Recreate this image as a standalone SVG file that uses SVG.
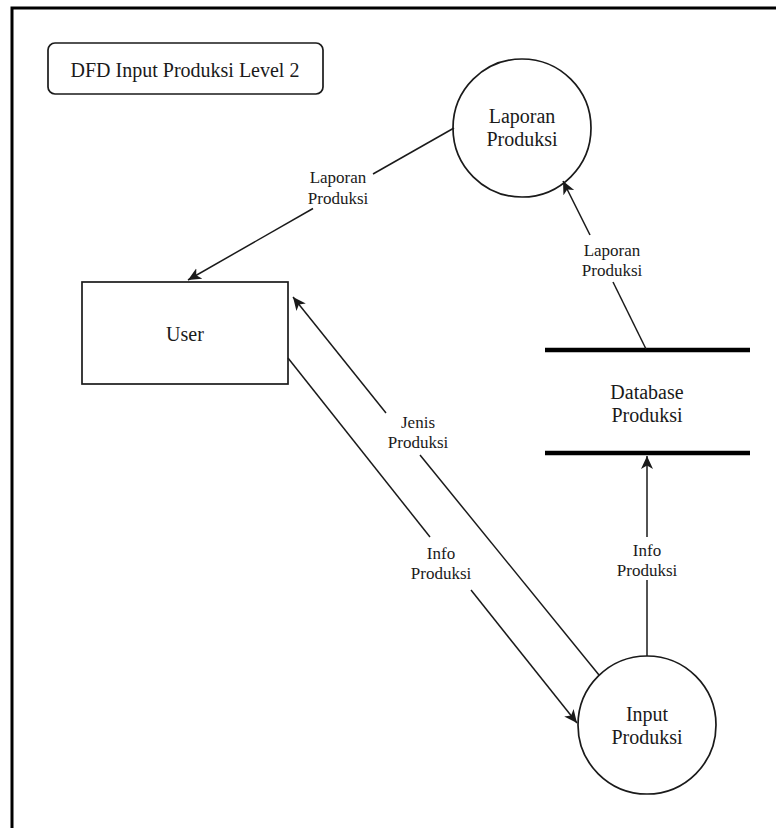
<svg xmlns="http://www.w3.org/2000/svg" width="776" height="828" viewBox="0 0 776 828">
  <style>
    .shape { fill: #ffffff; stroke: #1a1a1a; stroke-width: 1.7; }
    .edge { fill: none; stroke: #1a1a1a; stroke-width: 1.5; }
    .store { fill: none; stroke: #000000; stroke-width: 4.5; }
    .node-text { font-family: "Liberation Serif", "Times New Roman", serif; font-size: 20px; fill: #1a1a1a; text-anchor: middle; }
    .edge-text { font-family: "Liberation Serif", "Times New Roman", serif; font-size: 17px; fill: #1a1a1a; text-anchor: middle; }
  </style>
  <defs>
    <marker id="arrow" markerUnits="userSpaceOnUse" markerWidth="16" markerHeight="14" refX="13" refY="6" orient="auto">
      <path d="M0,0 L13,6 L0,12 L3.5,6 Z" fill="#1a1a1a"/>
    </marker>
  </defs>

  <rect width="776" height="828" fill="#ffffff"/>
  <!-- page frame -->
  <path d="M12,828 V8 H776" fill="none" stroke="#000000" stroke-width="3"/>

  <!-- title -->
  <g id="title">
    <rect class="shape" x="48" y="43" width="275" height="51" rx="7"/>
    <text class="node-text" x="185" y="77">DFD Input Produksi Level 2</text>
  </g>

  <!-- external entity -->
  <g id="user">
    <rect class="shape" x="82" y="282" width="206" height="102"/>
    <text class="node-text" x="185" y="341">User</text>
  </g>

  <!-- processes -->
  <g id="laporan-produksi">
    <circle class="shape" cx="522" cy="128" r="69"/>
    <text class="node-text" x="522" y="123">Laporan</text>
    <text class="node-text" x="522" y="146">Produksi</text>
  </g>

  <g id="input-produksi">
    <circle class="shape" cx="647" cy="725" r="69"/>
    <text class="node-text" x="647" y="721">Input</text>
    <text class="node-text" x="647" y="744">Produksi</text>
  </g>

  <!-- data store -->
  <g id="database-produksi">
    <line class="store" x1="545" y1="350" x2="750" y2="350"/>
    <line class="store" x1="545" y1="453" x2="750" y2="453"/>
    <text class="node-text" x="647" y="399">Database</text>
    <text class="node-text" x="647" y="422">Produksi</text>
  </g>

  <!-- data flows -->
  <g id="connectors">
    <!-- Laporan Produksi -> User -->
    <path class="edge" d="M454,128 L373,174"/>
    <path class="edge" d="M313,208.5 L188,280" marker-end="url(#arrow)"/>
    <text class="edge-text" x="338" y="183">Laporan</text>
    <text class="edge-text" x="338" y="204">Produksi</text>

    <!-- Database Produksi -> Laporan Produksi -->
    <path class="edge" d="M646,349 L613,282"/>
    <path class="edge" d="M590,235 L563,181" marker-end="url(#arrow)"/>
    <text class="edge-text" x="612" y="256">Laporan</text>
    <text class="edge-text" x="612" y="276">Produksi</text>

    <!-- Input Produksi -> User -->
    <path class="edge" d="M599,675 L420,455"/>
    <path class="edge" d="M386,413 L293,297" marker-end="url(#arrow)"/>
    <text class="edge-text" x="418" y="428">Jenis</text>
    <text class="edge-text" x="418" y="448">Produksi</text>

    <!-- User -> Input Produksi -->
    <path class="edge" d="M288,358 L430,537"/>
    <path class="edge" d="M471,590 L577,723" marker-end="url(#arrow)"/>
    <text class="edge-text" x="441" y="559">Info</text>
    <text class="edge-text" x="441" y="579">Produksi</text>

    <!-- Input Produksi -> Database Produksi -->
    <path class="edge" d="M647,656 L647,580"/>
    <path class="edge" d="M647,537 L647,456" marker-end="url(#arrow)"/>
    <text class="edge-text" x="647" y="556">Info</text>
    <text class="edge-text" x="647" y="576">Produksi</text>
  </g>
</svg>
